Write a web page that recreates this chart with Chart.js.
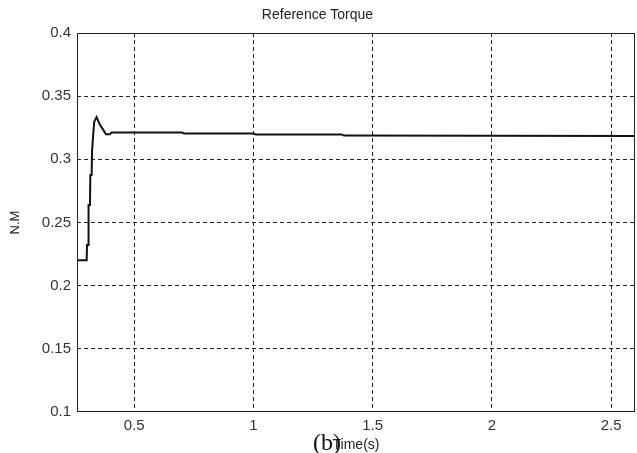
<!DOCTYPE html>
<html>
<head>
<meta charset="utf-8">
<script src="https://cdn.jsdelivr.net/npm/chart.js@4/dist/chart.umd.min.js"></script>
<style>
  html, body { margin: 0; padding: 0; background: #fff; }
  #wrap { width: 637px; height: 453px; }
</style>
</head>
<body>
<div id="wrap"><canvas id="torque" width="637" height="453"></canvas></div>
<script>
// Reference torque
const tiempo = [0.26, 0.3005, 0.302, 0.307, 0.3085, 0.3144, 0.316, 0.3214, 0.323, 0.3283, 0.3325,
                0.3423, 0.3563, 0.3702, 0.3814, 0.398, 0.405, 0.70, 0.71, 1.0, 1.01, 1.37, 1.38, 2.6];
const torque = [0.2202, 0.2202, 0.2321, 0.2321, 0.2639, 0.2639, 0.2876, 0.2876, 0.3061, 0.3207, 0.3299,
                0.3334, 0.3273, 0.3233, 0.3199, 0.3199, 0.3212, 0.3212, 0.3205, 0.3205, 0.3197, 0.3197, 0.3188, 0.3185];

const xTicks = [0.5, 1, 1.5, 2, 2.5];
const yTicks = [0.1, 0.15, 0.2, 0.25, 0.3, 0.35, 0.4];
const yLabels = ['0.1', '0.15', '0.2', '0.25', '0.3', '0.35', '0.4'];

const FONT = '"Liberation Sans", Arial, sans-serif';

// marco del área de gráfico + etiqueta (b)
const extras = {
    id: 'extras',
    afterDraw(chart) {
        const { ctx, chartArea: a } = chart;
        ctx.save();
        ctx.setLineDash([]);
        ctx.strokeStyle = '#222';
        ctx.lineWidth = 1;
        ctx.strokeRect(a.left + 0.5, a.top + 0.5, a.right - a.left - 1, a.bottom - a.top - 1);
        ctx.fillStyle = '#111';
        ctx.font = '24px "Liberation Serif", "Times New Roman", serif';
        ctx.textBaseline = 'alphabetic';
        ctx.fillText('(b)', 313, 450);
        ctx.restore();
    }
};

const ctx = document.getElementById('torque').getContext('2d');
new Chart(ctx, {
    type: 'line',
    data: {
        datasets: [{
            data: tiempo.map((t, i) => ({ x: t, y: torque[i] })),
            borderColor: '#111',
            borderWidth: 2,
            pointRadius: 0,
            tension: 0,
            fill: false
        }]
    },
    options: {
        responsive: false,
        animation: false,
        layout: { padding: { left: 0, right: 2, top: 0, bottom: 0 } },
        plugins: {
            legend: { display: false },
            tooltip: { enabled: false },
            title: {
                display: true,
                text: 'Reference Torque',
                color: '#222',
                font: { family: FONT, size: 14, weight: 'normal' },
                padding: { top: 7, bottom: 9.2 }
            }
        },
        scales: {
            x: {
                type: 'linear',
                min: 0.26,
                max: 2.6,
                afterBuildTicks: s => { s.ticks = xTicks.map(v => ({ value: v })); },
                afterFit: s => { s.height = 41; },
                grid: { color: '#222', lineWidth: 1, drawTicks: false },
                border: { display: false, dash: [4, 3] },
                ticks: {
                    color: '#333',
                    padding: 5,
                    maxRotation: 0,
                    font: { family: FONT, size: 15 },
                    callback: v => String(v)
                },
                title: {
                    display: true,
                    text: 'Time(s)',
                    color: '#222',
                    font: { family: FONT, size: 14 },
                    padding: { top: 0, bottom: -1 }
                }
            },
            y: {
                min: 0.1,
                max: 0.4,
                afterBuildTicks: s => { s.ticks = yTicks.map(v => ({ value: v })); },
                afterFit: s => { s.width = 77; },
                grid: {
                    color: c => (c.tick && (c.tick.value === 0.1 || c.tick.value === 0.4)) ? 'rgba(0,0,0,0)' : '#222',
                    lineWidth: 1,
                    drawTicks: false
                },
                border: { display: false, dash: [4, 3] },
                ticks: {
                    color: '#333',
                    padding: 6,
                    font: { family: FONT, size: 15 },
                    callback: (v, i) => yLabels[i]
                },
                title: {
                    display: true,
                    text: 'N.M',
                    color: '#222',
                    font: { family: FONT, size: 13 },
                    padding: { top: 8, bottom: 0 }
                }
            }
        }
    },
    plugins: [extras]
});
</script>
</body>
</html>
